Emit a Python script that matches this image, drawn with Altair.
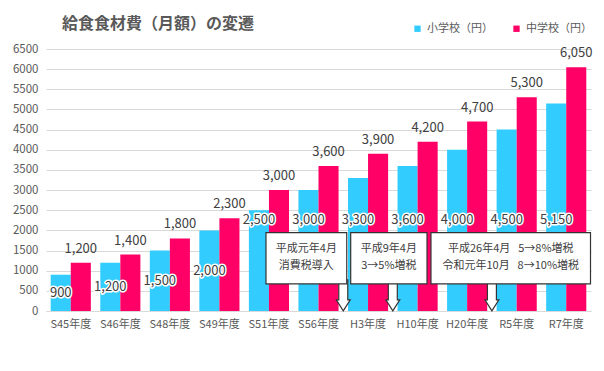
import altair as alt
import pandas as pd

# ---- data ----
categories = ["S45年度", "S46年度", "S48年度", "S49年度", "S51年度", "S56年度",
              "H3年度", "H10年度", "H20年度", "R5年度", "R7年度"]
elementary = [900, 1200, 1500, 2000, 2500, 3000, 3300, 3600, 4000, 4500, 5150]
middle = [1200, 1400, 1800, 2300, 3000, 3600, 3900, 4200, 4700, 5300, 6050]
series_names = ["小学校（円）", "中学校（円）"]
y_ticks = list(range(0, 6501, 500))
chart_title = ["給食食材費（月額）の変遷"]

note_line1 = ["平成元年4月", "平成9年4月", "平成26年4月 \u20025→8%増税"]
note_line2 = ["消費税導入", "3→5%増税", "令和元年10月 \u20028→10%増税"]

# ---- styling ----
FONT = "Noto Sans CJK JP"
CYAN = "#33CCFF"
MAGENTA = "#FF0066"
GRAY = "#595959"
DARK = "#404040"
GRID = "#D9D9D9"

W, H = 545, 262

rows = []
for c, e, m in zip(categories, elementary, middle):
    rows.append({"cat": c, "series": series_names[0], "value": e,
                 "label": f"{e:,}", "ly": e / 2 if e <= 2000 else 2270})
    rows.append({"cat": c, "series": series_names[1], "value": m,
                 "label": f"{m:,}", "ly": m})
df = pd.DataFrame(rows)
df_e = df[df.series == series_names[0]]
df_m = df[df.series == series_names[1]]

# annotation geometry in data units (x: category index units, y: yen)
boxes = pd.DataFrame({
    "x0": [4.44, 6.15, 7.77], "x1": [6.07, 7.69, 10.99],
    "y0": [672, 672, 672], "y1": [1943, 1943, 1943],
    "l1": note_line1, "l2": note_line2,
})
boxes["xc"] = (boxes.x0 + boxes.x1) / 2
boxes["t1"] = 1530
boxes["t2"] = 1110
arrows = pd.DataFrame({"x": [6, 7, 9], "y": [386, 386, 386]})

y_scale = alt.Scale(domain=[0, 6500], nice=False, zero=True)
y_axis = alt.Axis(values=y_ticks, title=None, ticks=False, domain=False,
                  labelPadding=8, labelColor=GRAY, labelFontSize=11.5,
                  labelFont=FONT, gridColor=GRID, format="d")
x_scale = alt.Scale(paddingInner=0.19, paddingOuter=0.095)
x_axis = alt.Axis(title=None, ticks=False, labelAngle=0, labelPadding=7,
                  labelColor=GRAY, labelFontSize=11, labelFont=FONT,
                  domainColor=GRID, grid=False)
xo = alt.XOffset("series:N", sort=series_names,
                 scale=alt.Scale(domain=series_names))
X = alt.X("cat:N", sort=categories, scale=x_scale, axis=x_axis)

bars = alt.Chart(df).mark_bar().encode(
    x=X, xOffset=xo,
    y=alt.Y("value:Q", scale=y_scale, axis=y_axis),
    color=alt.Color("series:N", sort=series_names,
                    scale=alt.Scale(domain=series_names, range=[CYAN, MAGENTA]),
                    legend=alt.Legend(orient="none", legendX=366, legendY=-26,
                                      direction="horizontal", title=None,
                                      symbolType="square", symbolSize=40,
                                      symbolStrokeWidth=0,
                                      labelFontSize=11, labelColor=GRAY,
                                      labelFont=FONT, labelOffset=4,
                                      columnPadding=18)),
)

txt_kw = dict(fontSize=13, font=FONT, color=DARK)
e_halo = alt.Chart(df_e).mark_text(baseline="middle", stroke="white",
                                   strokeWidth=3, strokeJoin="round",
                                   **txt_kw).encode(
    x=X, xOffset=xo, y=alt.Y("ly:Q", scale=y_scale, axis=y_axis),
    text="label:N")
e_text = alt.Chart(df_e).mark_text(baseline="middle", **txt_kw).encode(
    x=X, xOffset=xo, y=alt.Y("ly:Q", scale=y_scale, axis=y_axis),
    text="label:N")
m_text = alt.Chart(df_m).mark_text(baseline="bottom", dy=-7, **txt_kw).encode(
    x=X, xOffset=xo, y=alt.Y("ly:Q", scale=y_scale, axis=y_axis),
    text="label:N")

main = alt.layer(bars, e_halo, e_text, m_text)

xq = alt.Scale(domain=[0, 11], nice=False, zero=False)
arrow_path = ("M -0.29 -1 L 0.29 -1 L 0.29 0.29 L 0.45 0.29 L 0 1 "
              "L -0.45 0.29 L -0.29 0.29 Z")
arrow = alt.Chart(arrows).mark_point(shape=arrow_path, size=961, filled=True,
                                     fill="white", stroke="#333333",
                                     strokeWidth=1.2, opacity=1).encode(
    x=alt.X("x:Q", scale=xq, axis=None),
    y=alt.Y("y:Q", scale=y_scale, axis=y_axis))
box = alt.Chart(boxes).mark_rect(fill="white", stroke="#333333",
                                 strokeWidth=1.2).encode(
    x=alt.X("x0:Q", scale=xq, axis=None), x2="x1:Q",
    y=alt.Y("y0:Q", scale=y_scale, axis=y_axis), y2="y1:Q")
note_kw = dict(fontSize=11, font=FONT, color=DARK, baseline="middle")
n1 = alt.Chart(boxes).mark_text(**note_kw).encode(
    x=alt.X("xc:Q", scale=xq, axis=None),
    y=alt.Y("t1:Q", scale=y_scale, axis=y_axis), text="l1:N")
n2 = alt.Chart(boxes).mark_text(**note_kw).encode(
    x=alt.X("xc:Q", scale=xq, axis=None),
    y=alt.Y("t2:Q", scale=y_scale, axis=y_axis), text="l2:N")

title = alt.Chart(pd.DataFrame({"t": chart_title})).mark_text(
    align="left", baseline="middle", fontSize=16, fontWeight="bold",
    color=GRAY, font=FONT).encode(
    x=alt.value(16), y=alt.value(-25), text="t:N")

notes = alt.layer(arrow, box, n1, n2, title)

chart = alt.layer(main, notes).resolve_scale(x="independent").properties(
    width=W, height=H,
    autosize=alt.AutoSizeParams(type="none"),
    padding={"left": 38, "top": 41, "right": 5, "bottom": 30},
    background="white",
).configure_view(stroke=None)

chart.save("out.html", embed_options={"renderer": "svg", "actions": False})
